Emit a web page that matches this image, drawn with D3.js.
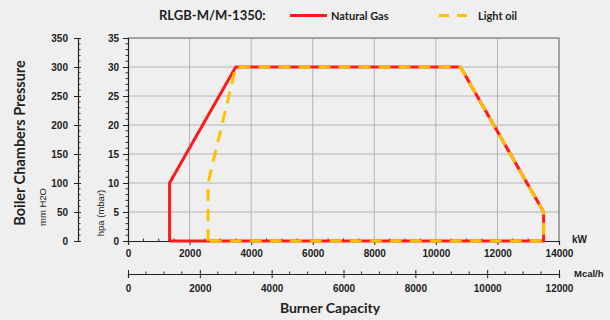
<!DOCTYPE html>
<html><head><meta charset="utf-8">
<script src="https://cdn.jsdelivr.net/npm/d3@7"></script>
<style>
body{margin:0;background:#efefef;}
svg{display:block;}
</style></head>
<body>
<svg id="c" width="610" height="320"></svg>
<script>
// ---- data ----
const chartTitle = "RLGB-M/M-1350:";
const seriesNames = ["Natural Gas", "Light oil"];
const gasKW = [1350, 1350, 3500, 10800, 13500, 13500, 1350];
const gasHpa = [0, 10, 30, 30, 5, 0, 0];
const oilKW = [2600, 2600, 3500, 10800, 13500, 13500, 2600];
const oilHpa = [0, 10, 30, 30, 5, 0, 0];
const kwTicks = [0, 2000, 4000, 6000, 8000, 10000, 12000, 14000];
const mcalTicks = [0, 2000, 4000, 6000, 8000, 10000, 12000];
const hpaTicks = [0, 5, 10, 15, 20, 25, 30, 35];
const mmTicks = [0, 50, 100, 150, 200, 250, 300, 350];

const svg = d3.select("#c");
const L = 128, R = 559, T = 38, B = 241;
const x = d3.scaleLinear().domain([0, 14000]).range([L, R]);
const xm = d3.scaleLinear().domain([0, 12000]).range([L, R]);
const y = d3.scaleLinear().domain([0, 35]).range([B, T]);
const ym = d3.scaleLinear().domain([0, 350]).range([B, T]);
const fmt = d3.format("d");

const tickFont = "'Liberation Sans', Arial, sans-serif";
const titleFont = "Lato, 'Open Sans', sans-serif";

// grid
const g = svg.append("g");
g.selectAll("line.vg").data(kwTicks.filter(d => d > 0 && d < 14000)).join("line")
  .attr("x1", d => x(d)).attr("x2", d => x(d)).attr("y1", T).attr("y2", B)
  .attr("stroke", "#b4b4b4").attr("stroke-width", 1);
g.selectAll("line.hg").data(hpaTicks.filter(d => d > 0 && d < 35)).join("line")
  .attr("x1", L).attr("x2", R).attr("y1", d => y(d)).attr("y2", d => y(d))
  .attr("stroke", "#b4b4b4").attr("stroke-width", 1);
// top & right border
svg.append("path").attr("d", `M${L},${T}H${R}V${B}`).attr("fill", "none")
  .attr("stroke", "#8a8a8a").attr("stroke-width", 1.5);

function styleText(sel, size) {
  sel.selectAll("text").attr("font-family", tickFont).attr("font-weight", "bold")
    .attr("font-size", size || 10).attr("fill", "#222");
}

// inner y axis (hpa)
const yAx = svg.append("g").attr("transform", `translate(${L},0)`)
  .call(d3.axisLeft(y).tickValues(hpaTicks).tickFormat(fmt).tickSize(5).tickPadding(4));
yAx.select(".domain").attr("stroke", "#222").attr("stroke-width", 1.2);
yAx.selectAll(".tick line").attr("stroke", "#222");
styleText(yAx);
svg.append("g").selectAll("line").data(d3.range(0, 36).filter(d => d % 5 !== 0)).join("line")
  .attr("x1", L - 2.5).attr("x2", L).attr("y1", d => y(d)).attr("y2", d => y(d)).attr("stroke", "#333");

// outer y axis (mm H2O)
const OX = 78;
const ymAx = svg.append("g").attr("transform", `translate(${OX},0)`)
  .call(d3.axisLeft(ym).tickValues(mmTicks).tickFormat(fmt).tickSize(4).tickPadding(6));
ymAx.select(".domain").attr("stroke", "#222").attr("stroke-width", 1.2);
ymAx.selectAll(".tick line").attr("stroke", "#222").attr("x2", 3).attr("x1", -4);
styleText(ymAx);
svg.append("g").selectAll("line").data(d3.range(0, 351, 10).filter(d => d % 50 !== 0)).join("line")
  .attr("x1", OX).attr("x2", OX + 2.5).attr("y1", d => ym(d)).attr("y2", d => ym(d)).attr("stroke", "#333");

// x axis kW
const xAx = svg.append("g").attr("transform", `translate(0,${B})`)
  .call(d3.axisBottom(x).tickValues(kwTicks).tickFormat(fmt).tickSize(4).tickPadding(5));
xAx.select(".domain").attr("stroke", "#222").attr("stroke-width", 1.2);
xAx.selectAll(".tick line").attr("stroke", "#222");
styleText(xAx);
svg.append("g").selectAll("line").data(d3.range(500, 14000, 500).filter(d => d % 2000 !== 0)).join("line")
  .attr("x1", d => x(d)).attr("x2", d => x(d)).attr("y1", B).attr("y2", B - 2.5).attr("stroke", "#333");

// x axis Mcal/h
const MY = 274;
const xmAx = svg.append("g").attr("transform", `translate(0,${MY})`)
  .call(d3.axisBottom(xm).tickValues(mcalTicks).tickFormat(fmt).tickSize(4).tickPadding(7));
xmAx.select(".domain").attr("stroke", "#222").attr("stroke-width", 1.2);
xmAx.selectAll(".tick line").attr("stroke", "#222").attr("y1", -4).attr("y2", 4);
styleText(xmAx);
svg.append("g").selectAll("line").data(d3.range(500, 12000, 500).filter(d => d % 2000 !== 0)).join("line")
  .attr("x1", d => xm(d)).attr("x2", d => xm(d)).attr("y1", MY).attr("y2", MY - 2.5).attr("stroke", "#333");

// series
const line = d3.line().x(d => x(d[0])).y(d => y(d[1]));
const gasPts = gasKW.map((k, i) => [k, gasHpa[i]]);
const oilPts = oilKW.map((k, i) => [k, oilHpa[i]]);
svg.append("path").attr("d", line(gasPts)).attr("fill", "none")
  .attr("stroke", "#ff1a1a").attr("stroke-width", 3).attr("stroke-linejoin", "round");
svg.append("path").attr("d", line(oilPts)).attr("fill", "none")
  .attr("stroke", "#ffc000").attr("stroke-width", 3).attr("stroke-linejoin", "round")
  .attr("stroke-dasharray", "12,8");

// unit labels
svg.append("text").attr("x", 572).attr("y", 243).text("kW")
  .attr("font-family", tickFont).attr("font-weight", "bold").attr("font-size", 10).attr("fill", "#222");
svg.append("text").attr("x", 574).attr("y", 277).text("Mcal/h")
  .attr("font-family", tickFont).attr("font-weight", "bold").attr("font-size", 9.5).attr("fill", "#222");

// titles
svg.append("text").attr("transform", "translate(25,143) rotate(-90)").attr("text-anchor", "middle")
  .text("Boiler Chambers Pressure").attr("font-family", titleFont).attr("font-weight", "bold")
  .attr("font-size", 14.5).attr("fill", "#222");
svg.append("text").attr("transform", "translate(46,207) rotate(-90)").attr("text-anchor", "middle")
  .text("mm H2O").attr("font-family", tickFont).attr("font-size", 9.5).attr("fill", "#222");
svg.append("text").attr("transform", "translate(104,213) rotate(-90)").attr("text-anchor", "middle")
  .text("hpa (mbar)").attr("font-family", tickFont).attr("font-size", 9.5).attr("fill", "#222");
svg.append("text").attr("x", 330).attr("y", 313).attr("text-anchor", "middle")
  .text("Burner Capacity").attr("font-family", titleFont).attr("font-weight", "bold")
  .attr("font-size", 14).attr("fill", "#222");

// legend
svg.append("text").attr("x", 159).attr("y", 20).text(chartTitle)
  .attr("font-family", titleFont).attr("font-weight", "bold").attr("font-size", 13).attr("fill", "#222");
svg.append("line").attr("x1", 290).attr("x2", 327).attr("y1", 15.5).attr("y2", 15.5)
  .attr("stroke", "#ff1a1a").attr("stroke-width", 3);
svg.append("text").attr("x", 331).attr("y", 20).text(seriesNames[0])
  .attr("font-family", titleFont).attr("font-weight", "bold").attr("font-size", 11).attr("fill", "#222");
svg.append("line").attr("x1", 439).attr("x2", 468).attr("y1", 15.5).attr("y2", 15.5)
  .attr("stroke", "#ffc000").attr("stroke-width", 3).attr("stroke-dasharray", "10,8");
svg.append("text").attr("x", 478).attr("y", 20).text(seriesNames[1])
  .attr("font-family", titleFont).attr("font-weight", "bold").attr("font-size", 11).attr("fill", "#222");
</script>
</body></html>
